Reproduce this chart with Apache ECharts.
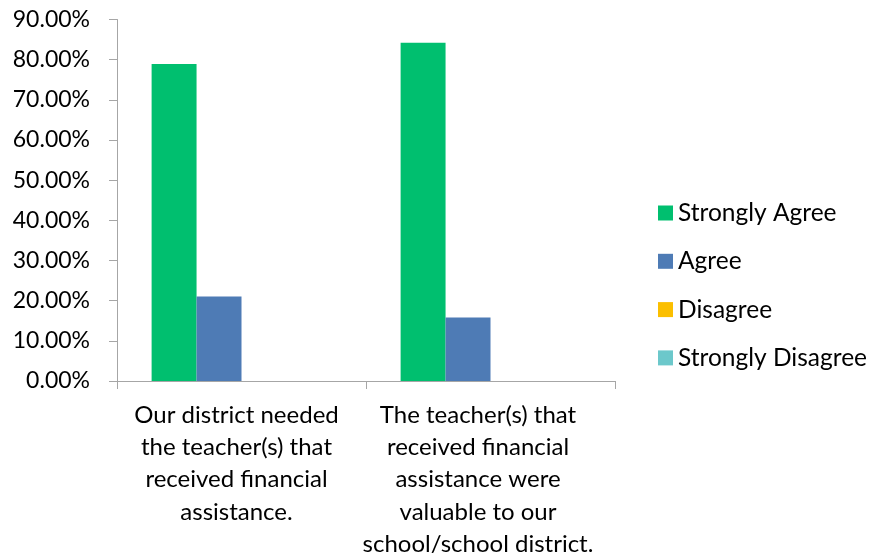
<!DOCTYPE html>
<html>
<head>
<meta charset="utf-8">
<script src="https://cdn.jsdelivr.net/npm/echarts@6/dist/echarts.min.js"></script>
<style>
  html, body { margin: 0; padding: 0; background: #fff; }
  #chart { width: 870px; height: 559px; }
</style>
</head>
<body>
<div id="chart"></div>
<script>
// Survey statements (category axis)
const categories = [
  'Our district needed\nthe teacher(s) that\nreceived financial\nassistance.',
  'The teacher(s) that\nreceived financial\nassistance were\nvaluable to our\nschool/school district.'
];
// Response shares, in percent
const strongAgree = [78.95, 84.21];
const agree = [21.05, 15.79];
const disagree = [0, 0];
const strongDisagree = [0, 0];
const seriesNames = ['Strongly Agree', 'Agree', 'Disagree', 'Strongly Disagree'];
const yTicks = { min: 0, max: 90, step: 10 };

const FONT = 'Lato';
const axisGrey = '#A6A6A6';
const colors = ['#00BF6F', '#4E7BB5', '#FBBF00', '#6CC8CB'];

const chart = echarts.init(document.getElementById('chart'), null, { renderer: 'canvas' });

const seriesData = [strongAgree, agree, disagree, strongDisagree];

chart.setOption({
  animation: false,
  color: colors,
  grid: {
    left: 117, right: 255, top: 19.5, bottom: 178,
    containLabel: false,
    outerBoundsMode: 'none'
  },
  legend: {
    orient: 'vertical',
    left: 653,
    top: 195,
    itemWidth: 15,
    itemHeight: 15,
    itemGap: 22.3,
    icon: 'rect',
    data: seriesNames,
    textStyle: { fontFamily: FONT, fontSize: 24.5, color: '#000', lineHeight: 26 }
  },
  xAxis: {
    type: 'category',
    data: categories,
    axisLine: { lineStyle: { color: axisGrey, width: 1 } },
    axisTick: { show: true, length: 8, lineStyle: { color: axisGrey } },
    axisLabel: {
      interval: 0,
      margin: 18,
      color: '#000',
      fontFamily: FONT,
      fontSize: 24,
      lineHeight: 32.3,
      formatter: function (value, idx) {
        return idx === 0 ? '{a|' + value + '}' : '{b|' + value + '}';
      },
      rich: {
        a: { fontFamily: FONT, fontSize: 24, lineHeight: 32.3, color: '#000', padding: [0, 10, 0, 0] },
        b: { fontFamily: FONT, fontSize: 24, lineHeight: 32.3, color: '#000', padding: [0, 25, 0, 0] }
      }
    },
    splitLine: { show: false }
  },
  yAxis: {
    type: 'value',
    min: yTicks.min,
    max: yTicks.max,
    interval: yTicks.step,
    axisLine: { show: true, lineStyle: { color: axisGrey, width: 1 } },
    axisTick: { show: true, length: 8, lineStyle: { color: axisGrey } },
    splitLine: { show: false },
    axisLabel: {
      margin: 27,
      color: '#000',
      fontFamily: FONT,
      fontSize: 23,
      formatter: v => v.toFixed(2) + '%'
    }
  },
  series: seriesNames.map((name, i) => ({
    name: name,
    type: 'bar',
    data: seriesData[i],
    barGap: '0%',
    barCategoryGap: '27.8%',
    itemStyle: { color: colors[i] }
  }))
});
</script>
</body>
</html>
